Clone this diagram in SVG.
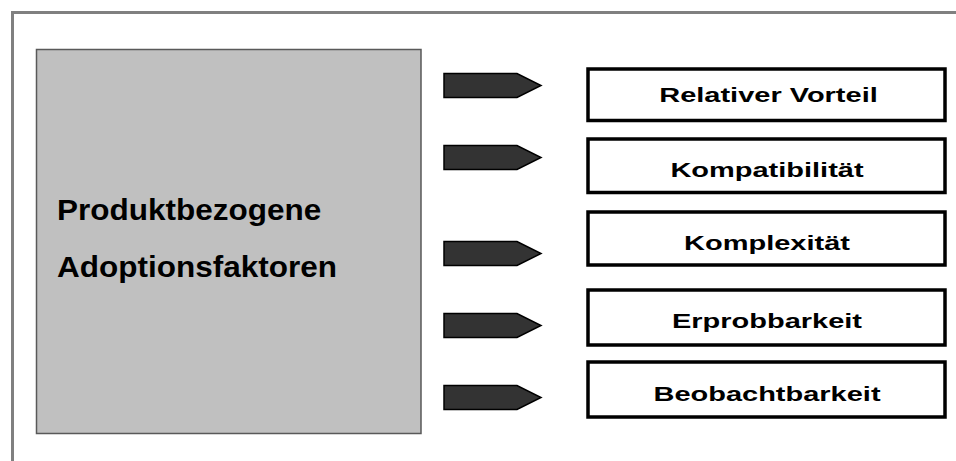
<svg xmlns="http://www.w3.org/2000/svg" width="956" height="461" viewBox="0 0 956 461">
<style>
.frame{fill:none;stroke:#808080;stroke-width:3}
.main{fill:#c0c0c0;stroke:#595959;stroke-width:1.5}
.box{fill:#fff;stroke:#000;stroke-width:3.5}
.arr{fill:#333;stroke:#000;stroke-width:1.5;stroke-linejoin:miter}
.t{font-family:"Liberation Sans",Arial,sans-serif;font-weight:bold;font-size:20px;fill:#000;text-anchor:middle}
.l{font-family:"Liberation Sans",Arial,sans-serif;font-weight:bold;font-size:30px;fill:#000}
</style>
<rect class="frame" x="12.5" y="12.5" width="960" height="470"/>
<g id="main">
<rect class="main" x="36.5" y="49.5" width="384.5" height="384"/>
<text class="l" transform="translate(57,219.5) scale(1.05,1)">Produktbezogene</text>
<text class="l" transform="translate(57,276.5) scale(1.05,1)">Adoptionsfaktoren</text>
</g>
<g id="connectors">
<polygon class="arr" points="444,73.5 517,73.5 541,85.5 517,97.5 444,97.5"/>
<polygon class="arr" points="444,145.5 517,145.5 541,157.5 517,169.5 444,169.5"/>
<polygon class="arr" points="444,241.5 517,241.5 541,253.5 517,265.5 444,265.5"/>
<polygon class="arr" points="444,313.5 517,313.5 541,325.5 517,337.5 444,337.5"/>
<polygon class="arr" points="444,385.5 517,385.5 541,397.5 517,409.5 444,409.5"/>
</g>
<g id="n1">
<rect class="box" x="588" y="69" width="357" height="51.5"/>
<text class="t" transform="translate(768.5,102) scale(1.45,1)">Relativer Vorteil</text>
</g>
<g id="n2">
<rect class="box" x="588" y="139" width="357" height="53.5"/>
<text class="t" transform="translate(767,176.5) scale(1.45,1)">Kompatibilität</text>
</g>
<g id="n3">
<rect class="box" x="588" y="212" width="357" height="53"/>
<text class="t" transform="translate(767,249.5) scale(1.45,1)">Komplexität</text>
</g>
<g id="n4">
<rect class="box" x="588" y="290" width="357" height="55"/>
<text class="t" transform="translate(767,328) scale(1.45,1)">Erprobbarkeit</text>
</g>
<g id="n5">
<rect class="box" x="588" y="362" width="357" height="55"/>
<text class="t" transform="translate(767,401) scale(1.45,1)">Beobachtbarkeit</text>
</g>
</svg>
